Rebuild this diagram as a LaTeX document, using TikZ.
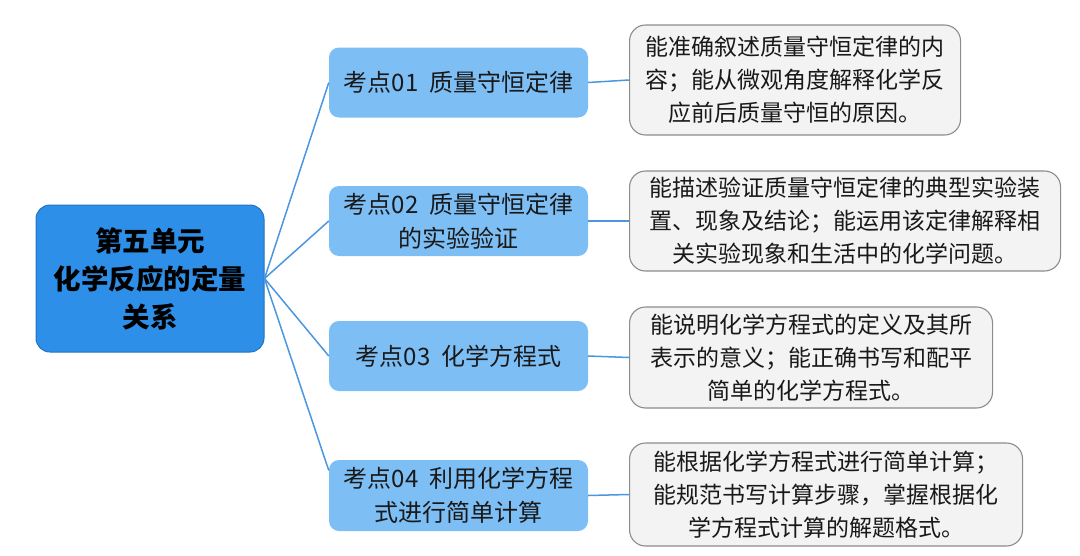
\documentclass[tikz,border=0pt]{standalone}
\usepackage{fontspec}
\setmainfont{Noto Sans CJK SC}

\definecolor{rootblue}{HTML}{2E8FE8}
\definecolor{rootedge}{HTML}{2273C4}
\definecolor{topicblue}{HTML}{7DBEF5}
\definecolor{aimgray}{HTML}{F3F3F3}
\definecolor{aimedge}{HTML}{8C8C8C}
\definecolor{linkblue}{HTML}{4A96E0}

\begin{document}
\begin{tikzpicture}
  [
    x=1pt, y=-1pt,
    root/.style  = {draw=rootedge, fill=rootblue, rounded corners=14pt, line width=1pt, inner sep=0pt,
                    minimum width=228pt, minimum height=147pt, align=center,
                    font=\fontsize{27.5}{38}\selectfont\bfseries},
    topic/.style = {fill=topicblue, rounded corners=10pt, inner sep=0pt, text=black!90,
                    minimum width=259pt, minimum height=70pt, align=center,
                    font=\fontsize{24}{34}\selectfont},
    aim/.style   = {draw=aimedge, fill=aimgray, rounded corners=16pt, line width=1.1pt, inner sep=0pt,
                    anchor=west, align=center, text=black!90,
                    font=\fontsize{23}{33}\selectfont},
    link/.style  = {draw=linkblue, line width=1.5pt},
  ]

%Fix the page to the reference size
\useasboundingbox (0,0) rectangle (1080,555);

%Left edge of the boxes on the right
\def \aimx{629}

%Central unit
\node[root] (root) at (150,278.5) {第五单元\\化学反应的定量\\关系};

%Topics of the unit
\node[topic] (t1) at (458.5,82.5) {考点01\hspace{0.45em}质量守恒定律};
\node[topic] (t2) at (458.5,221)  {考点02\hspace{0.45em}质量守恒定律\\的实验验证};
\node[topic] (t3) at (458.5,356)  {考点03\hspace{0.45em}化学方程式};
\node[topic, minimum height=71pt] (t4) at (458.5,495.5) {考点04\hspace{0.45em}利用化学方程\\式进行简单计算};

%Aims for each topic
\node[aim, minimum width=331pt, minimum height=110pt] (a1) at (\aimx,80)
  {能准确叙述质量守恒定律的内\\容；能从微观角度解释化学反\\应前后质量守恒的原因。};
\node[aim, minimum width=431pt, minimum height=100pt] (a2) at (\aimx,221)
  {能描述验证质量守恒定律的典型实验装\\置、现象及结论；能运用该定律解释相\\关实验现象和生活中的化学问题。};
\node[aim, minimum width=363pt, minimum height=101pt] (a3) at (\aimx,357.5)
  {能说明化学方程式的定义及其所\\表示的意义；能正确书写和配平\\简单的化学方程式。};
\node[aim, minimum width=393pt, minimum height=103pt] (a4) at (\aimx,494.5)
  {能根据化学方程式进行简单计算；\\能规范书写计算步骤，掌握根据化\\学方程式计算的解题格式。};

%Connectors
\foreach \i in {1,2,3}
{
\draw[link] (root.east) -- (t\i.west);
}
\draw[link] (root.east) -- ([yshift=25pt]t4.west);

\foreach \i in {1,...,4}
{
\draw[link] (t\i.east) -- (a\i.west);
}

\end{tikzpicture}
\end{document}
